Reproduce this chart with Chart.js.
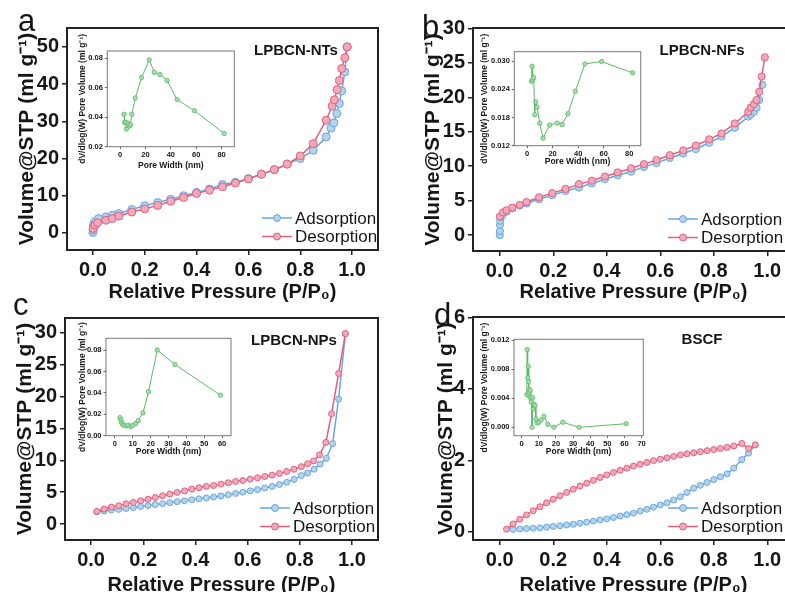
<!DOCTYPE html>
<html><head><meta charset="utf-8">
<script src="https://cdn.jsdelivr.net/npm/chart.js@4.4.1/dist/chart.umd.min.js"></script>
<style>
html,body{margin:0;padding:0;background:#fff;}
body{width:785px;height:592px;overflow:hidden;position:relative;}
canvas{position:absolute;}
</style></head><body>
<canvas id="pa" width="392" height="305" style="left:0px;top:0px"></canvas>
<canvas id="pb" width="410" height="305" style="left:392px;top:0px"></canvas>
<canvas id="pc" width="392" height="310" style="left:0px;top:290px"></canvas>
<canvas id="pd" width="410" height="310" style="left:392px;top:290px"></canvas>
<canvas id="ia" width="170" height="150" style="left:75px;top:25px"></canvas>
<canvas id="ib" width="175" height="150" style="left:475px;top:25px"></canvas>
<canvas id="ic" width="170" height="150" style="left:75px;top:312px"></canvas>
<canvas id="id" width="175" height="150" style="left:475px;top:312px"></canvas>
<script>
// ================= DATA =================
const xTicksMain = [0, 0.2, 0.4, 0.6, 0.8, 1.0];
const yTicksA = [0, 10, 20, 30, 40, 50];
const yTicksB = [0, 5, 10, 15, 20, 25, 30];
const yTicksC = [0, 5, 10, 15, 20, 25, 30];
const yTicksD = [0, 2, 4, 6];

// Panel a: LPBCN-NTs
const adsXA = [0.0002,0.0006,0.0015,0.004,0.01,0.022,0.05,0.075,0.1,0.15,0.2,0.25,0.3,0.35,0.4,0.45,0.5,0.55,0.6,0.65,0.7,0.75,0.8,0.85,0.9,0.919,0.93,0.941,0.951,0.96,0.972,0.981];
const adsYA = [0.1,0.8,1.8,2.6,3.1,3.85,4.3,4.75,5.2,6.3,7.3,8.15,9.05,10.0,10.9,11.8,13.0,13.6,14.6,15.8,17.0,18.5,20.0,22.2,25.8,28.2,29.6,32.1,34.8,38.2,43.3,50.0];
const desXA = [0.001,0.008,0.018,0.05,0.075,0.1,0.15,0.2,0.25,0.3,0.35,0.4,0.45,0.5,0.55,0.6,0.65,0.7,0.75,0.8,0.85,0.9,0.923,0.932,0.942,0.951,0.96,0.972,0.981];
const desYA = [1.2,2.1,2.7,3.4,3.85,4.5,5.6,6.45,7.4,8.5,9.5,10.6,11.5,12.4,13.4,14.5,15.8,17.0,18.5,20.7,24.0,30.3,34.1,35.8,38.5,41.0,44.2,47.1,50.0];

// Panel b: LPBCN-NFs
const adsXB = [0.0002,0.0005,0.001,0.002,0.004,0.01,0.025,0.047,0.075,0.1,0.147,0.196,0.246,0.296,0.344,0.393,0.441,0.491,0.539,0.586,0.636,0.686,0.733,0.783,0.829,0.879,0.929,0.938,0.95,0.96,0.97,0.982];
const adsYB = [0.0,0.6,1.5,2.1,2.6,2.9,3.4,3.9,4.3,4.6,5.2,5.8,6.4,6.9,7.5,8.1,8.7,9.2,9.9,10.45,11.2,11.85,12.5,13.4,14.3,15.6,17.2,17.5,17.9,18.5,19.6,21.8];
const desXB = [0.0005,0.012,0.025,0.047,0.075,0.1,0.147,0.196,0.246,0.296,0.344,0.393,0.441,0.491,0.539,0.586,0.636,0.686,0.733,0.783,0.829,0.879,0.929,0.938,0.95,0.96,0.97,0.979,0.991];
const desYB = [2.7,3.3,3.6,4.0,4.4,4.8,5.5,6.1,6.7,7.4,7.9,8.5,9.1,9.7,10.3,10.9,11.6,12.3,13.0,13.9,14.75,16.2,17.9,18.5,19.0,19.6,20.8,23.0,25.8];

// Panel c: LPBCN-NPs
const adsXC = [0.022,0.05,0.078,0.106,0.134,0.162,0.19,0.218,0.246,0.274,0.302,0.33,0.358,0.386,0.414,0.442,0.47,0.498,0.526,0.554,0.582,0.61,0.638,0.666,0.694,0.722,0.75,0.778,0.806,0.83,0.855,0.878,0.902,0.926,0.949,0.975];
const adsYC = [1.9,2.05,2.2,2.3,2.45,2.6,2.75,2.9,3.05,3.2,3.35,3.5,3.65,3.8,3.95,4.1,4.25,4.4,4.6,4.8,5.0,5.2,5.4,5.65,5.9,6.2,6.55,7.0,7.6,8.0,8.6,9.4,10.3,12.6,19.6,29.85];
const desXC = [0.022,0.05,0.078,0.106,0.134,0.162,0.19,0.218,0.246,0.274,0.302,0.33,0.358,0.386,0.414,0.442,0.47,0.498,0.526,0.554,0.582,0.61,0.638,0.666,0.694,0.722,0.75,0.778,0.806,0.83,0.853,0.876,0.9,0.922,0.949,0.975];
const desYC = [1.98,2.35,2.66,2.87,3.18,3.39,3.65,3.9,4.17,4.43,4.7,4.96,5.2,5.48,5.69,5.9,6.05,6.26,6.47,6.68,6.83,7.04,7.25,7.46,7.67,7.93,8.24,8.6,9.0,9.45,9.9,10.85,12.8,17.3,23.6,29.85];

// Panel d: BSCF
const adsXD = [0.05,0.075,0.1,0.125,0.15,0.175,0.2,0.225,0.25,0.275,0.3,0.325,0.35,0.375,0.4,0.425,0.45,0.475,0.5,0.525,0.55,0.575,0.6,0.625,0.65,0.675,0.7,0.725,0.75,0.775,0.8,0.825,0.85,0.875,0.905,0.93,0.955];
const adsYD = [0.065,0.075,0.09,0.10,0.11,0.13,0.15,0.17,0.19,0.21,0.24,0.27,0.30,0.33,0.36,0.40,0.44,0.48,0.52,0.58,0.63,0.69,0.75,0.81,0.89,0.98,1.1,1.22,1.3,1.38,1.46,1.54,1.62,1.78,2.02,2.2,2.43];
const desXD = [0.025,0.05,0.075,0.1,0.125,0.15,0.175,0.2,0.225,0.25,0.275,0.3,0.325,0.35,0.375,0.4,0.425,0.45,0.475,0.5,0.525,0.55,0.575,0.6,0.625,0.65,0.675,0.7,0.725,0.75,0.775,0.8,0.825,0.85,0.875,0.905,0.93,0.955];
const desYD = [0.07,0.22,0.35,0.47,0.59,0.70,0.81,0.91,1.01,1.10,1.19,1.28,1.36,1.44,1.52,1.59,1.66,1.72,1.78,1.84,1.89,1.94,1.99,2.03,2.07,2.11,2.15,2.18,2.21,2.24,2.27,2.30,2.33,2.36,2.40,2.47,2.33,2.43];

// Insets: pore size distributions
const poreXA = [3.2,3.6,4.5,5.0,5.8,6.5,7.5,8.3,9.3,12,17,23,27,31.5,37,45,58.5,82];
const poreYA = [0.042,0.0365,0.0365,0.032,0.0345,0.036,0.034,0.035,0.042,0.053,0.067,0.079,0.0705,0.069,0.065,0.052,0.0445,0.029];
const poreXB = [3.4,3.9,4.4,5.2,6.0,6.8,7.8,9.9,12.5,17.7,23.5,27.4,32,37.8,45.3,58.4,82.6];
const poreYB = [0.0257,0.0289,0.0261,0.0265,0.0186,0.0213,0.0202,0.0168,0.0136,0.0164,0.0168,0.0165,0.0188,0.0236,0.0294,0.0299,0.0275];
const poreXC = [2.8,3.4,3.7,4.3,5.0,6.2,7.5,8.8,10,11.6,13,15.7,18.8,23.7,33.6,59.1];
const poreYC = [0.0169,0.0144,0.0122,0.0106,0.0097,0.0091,0.0097,0.0084,0.0097,0.0113,0.014,0.0213,0.041,0.080,0.0666,0.0378];
const poreXD = [3.0,3.2,3.5,3.8,4.0,4.2,4.4,4.7,5.0,5.3,5.6,6.0,6.3,6.7,7.2,7.8,8.3,9.0,10,11.3,13,15.3,18.8,24,33.5,61];
const poreYD = [0.0045,0.0107,0.0068,0.0084,0.0063,0.0048,0.0052,0.0042,0.0051,0.0040,0.0035,0.0000,0.0041,0.0025,0.0032,0.0030,0.0011,0.0006,0.0007,0.0010,0.0015,0.0004,0.0000,0.0007,0.0000,0.0005];

const insetXTicksA = [0,20,40,60,80];
const insetYTicksA = [0.02,0.04,0.06,0.08];
const insetXTicksB = [0,20,40,60,80];
const insetYTicksB = [0.012,0.018,0.024,0.030];
const insetXTicksC = [0,10,20,30,40,50,60];
const insetYTicksC = [0,0.02,0.04,0.06,0.08];
const insetXTicksD = [0,10,20,30,40,50,60,70];
const insetYTicksD = [0,0.004,0.008,0.012];

const seriesNames = ['Adsorption', 'Desorption'];
const sampleNames = ['LPBCN-NTs', 'LPBCN-NFs', 'LPBCN-NPs', 'BSCF'];
const panelLetters = ['a', 'b', 'c', 'd'];

// ================= STYLE =================
const FONT = "'Liberation Sans', Arial, Helvetica, sans-serif";
const INK = '#161616';
const BLUE = '#6aa6d9', BLUE_F = '#b3d3ee';
const RED = '#e0607e', RED_F = '#f2a9b9';
const GREEN = '#5cb96a', GREEN_F = '#a6dcae';

function pts(xs, ys) { return xs.map((x, i) => ({x: x, y: ys[i]})); }

const framePlugin = {
  id: 'frame',
  beforeDraw(chart, args, o) {
    if (!o.fill) return;
    const a = chart.chartArea, c = chart.ctx;
    c.save(); c.fillStyle = o.fill; c.fillRect(a.left, a.top, a.right - a.left, a.bottom - a.top); c.restore();
  },
  afterDatasetsDraw(chart, args, o) {
    const a = chart.chartArea, c = chart.ctx;
    c.save(); c.strokeStyle = o.color; c.lineWidth = o.width;
    c.strokeRect(a.left, a.top, a.right - a.left, a.bottom - a.top); c.restore();
  }
};

const decoPlugin = {
  id: 'deco',
  afterDraw(chart, args, o) {
    const c = chart.ctx, a = chart.chartArea;
    c.save();
    c.fillStyle = INK;
    if (o.letter) {
      c.font = '31px ' + FONT; c.textAlign = 'left'; c.textBaseline = 'alphabetic';
      c.fillText(o.letter, o.lx, o.ly);
    }
    if (o.sample) {
      c.font = 'bold 15px ' + FONT; c.textAlign = 'center'; c.textBaseline = 'middle';
      c.fillText(o.sample, a.left + 229, a.top + 23);
    }
    chart.data.datasets.forEach((ds, i) => {
      const y = a.bottom - 32 + i * 18.5, x0 = a.left + 195, x1 = a.left + 225;
      c.strokeStyle = ds.borderColor; c.lineWidth = 1.5;
      c.beginPath(); c.moveTo(x0, y); c.lineTo(x1, y); c.stroke();
      c.beginPath(); c.arc((x0 + x1) / 2, y, 3.5, 0, Math.PI * 2);
      c.fillStyle = ds.pointBackgroundColor; c.fill();
      c.lineWidth = 1; c.strokeStyle = ds.pointBorderColor; c.stroke();
      c.fillStyle = INK; c.font = '17px ' + FONT; c.textAlign = 'left'; c.textBaseline = 'middle';
      c.fillText(ds.label, x1 + 3, y + 1);
    });
    c.restore();
  }
};

function mainChart(id, p) {
  return new Chart(document.getElementById(id), {
    type: 'scatter',
    data: {datasets: [
      {label: seriesNames[0], data: pts(p.ax, p.ay), showLine: true, borderColor: BLUE, backgroundColor: BLUE_F,
       pointBackgroundColor: BLUE_F, pointBorderColor: BLUE, pointRadius: p.r, pointBorderWidth: 1, borderWidth: 1.5, order: 2},
      {label: seriesNames[1], data: pts(p.dx, p.dy), showLine: true, borderColor: RED, backgroundColor: RED_F,
       pointBackgroundColor: RED_F, pointBorderColor: RED, pointRadius: p.r, pointBorderWidth: 1, borderWidth: 1.5, order: 1}
    ]},
    options: {
      responsive: false, animation: false, devicePixelRatio: 1,
      layout: {padding: {top: p.pt, right: p.pr, left: 0, bottom: 0}},
      plugins: {
        legend: {display: false}, tooltip: {enabled: false},
        frame: {color: '#222', width: 2},
        deco: {letter: p.letter, lx: p.lx, ly: p.ly, sample: p.sample}
      },
      scales: {
        x: {
          type: 'linear', min: -0.1, max: 1.1,
          afterFit(s) { s.height = p.xh; },
          afterBuildTicks(s) { s.ticks = xTicksMain.map(v => ({value: v})); },
          ticks: {font: {family: FONT, size: 20, weight: 'bold'}, color: INK, padding: 3, maxRotation: 0,
                  callback: v => v.toFixed(1)},
          grid: {drawOnChartArea: false, drawTicks: true, tickLength: 5, lineWidth: 1.5, color: '#222'},
          border: {display: false},
          title: {display: true, text: 'Relative Pressure (P/P₀)', color: INK,
                  font: {family: FONT, size: 20, weight: 'bold'}, padding: {top: 0, bottom: p.xtb}}
        },
        y: {
          type: 'linear', min: p.ymin, max: p.ymax,
          afterFit(s) { s.width = p.yw; },
          afterBuildTicks(s) { s.ticks = p.yt.map(v => ({value: v})); },
          ticks: {font: {family: FONT, size: 20, weight: 'bold'}, color: INK, padding: 3,
                  callback: v => String(v)},
          grid: {drawOnChartArea: false, drawTicks: true, tickLength: 5, lineWidth: 1.5, color: '#222'},
          border: {display: false},
          title: {display: true, text: 'Volume@STP (ml g⁻¹)', color: INK,
                  font: {family: FONT, size: 21, weight: 'bold'}, padding: {top: p.ytp, bottom: 0}}
        }
      }
    },
    plugins: [framePlugin, decoPlugin]
  });
}

function insetChart(id, p) {
  return new Chart(document.getElementById(id), {
    type: 'scatter',
    data: {datasets: [
      {label: 'PSD', data: pts(p.x, p.y), showLine: true, borderColor: GREEN, backgroundColor: GREEN_F,
       pointBackgroundColor: GREEN_F, pointBorderColor: GREEN, pointRadius: 2.2, pointBorderWidth: 0.8, borderWidth: 1}
    ]},
    options: {
      responsive: false, animation: false, devicePixelRatio: 1,
      layout: {padding: {top: p.pt, right: p.pr, left: 0, bottom: 0}},
      plugins: {legend: {display: false}, tooltip: {enabled: false},
                frame: {color: '#777', width: 1, fill: '#fff'}},
      scales: {
        x: {
          type: 'linear', min: p.xmin, max: p.xmax,
          afterFit(s) { s.height = p.xh; },
          afterBuildTicks(s) { s.ticks = p.xt.map(v => ({value: v})); },
          ticks: {font: {family: FONT, size: 7.5, weight: 'bold'}, color: INK, padding: 1, maxRotation: 0,
                  callback: v => String(v)},
          grid: {drawOnChartArea: false, drawTicks: true, tickLength: 2.5, lineWidth: 1, color: '#666'},
          border: {display: false},
          title: {display: true, text: 'Pore Width (nm)', color: INK,
                  font: {family: FONT, size: 8.5, weight: 'bold'}, padding: {top: 0, bottom: p.xtb}}
        },
        y: {
          type: 'linear', min: p.ymin, max: p.ymax,
          afterFit(s) { s.width = p.yw; },
          afterBuildTicks(s) { s.ticks = p.yt.map(v => ({value: v})); },
          ticks: {font: {family: FONT, size: 7.5, weight: 'bold'}, color: INK, padding: 2,
                  callback: v => v.toFixed(p.dec)},
          grid: {drawOnChartArea: false, drawTicks: true, tickLength: 2.5, lineWidth: 1, color: '#666'},
          border: {display: false},
          title: {display: true, text: 'dV/dlog(W) Pore Volume (ml g⁻¹)', color: INK,
                  font: {family: FONT, size: 8.5, weight: 'bold'}, padding: {top: p.ytp, bottom: 0}}
        }
      }
    },
    plugins: [framePlugin]
  });
}

// ================= PANELS =================
mainChart('pa', {ax: adsXA, ay: adsYA, dx: desXA, dy: desYA, r: 4, ymin: -4.6, ymax: 55.1, yt: yTicksA,
  pt: 28, pr: 14, yw: 67, xh: 55, ytp: 14.4, xtb: 0.5, letter: panelLetters[0], lx: 18, ly: 31, sample: sampleNames[0]});
mainChart('pb', {ax: adsXB, ay: adsYB, dx: desXB, dy: desYB, r: 3.6, ymin: -2.3, ymax: 30.05, yt: yTicksB,
  pt: 28, pr: 8, yw: 81, xh: 54, ytp: 28.4, xtb: 0.5, letter: panelLetters[1], lx: 30, ly: 37, sample: sampleNames[1]});
mainChart('pc', {ax: adsXC, ay: adsYC, dx: desXC, dy: desYC, r: 3, ymin: -2.5, ymax: 32.3, yt: yTicksC,
  pt: 28, pr: 14, yw: 65, xh: 60, ytp: 12.4, xtb: 3, letter: panelLetters[2], lx: 13, ly: 25, sample: sampleNames[2]});
mainChart('pd', {ax: adsXD, ay: adsYD, dx: desXD, dy: desYD, r: 3, ymin: -0.23, ymax: 6.01, yt: yTicksD,
  pt: 27, pr: 8, yw: 81, xh: 60, ytp: 41.4, xtb: 3, letter: panelLetters[3], lx: 42, ly: 35, sample: sampleNames[3]});

insetChart('ia', {x: poreXA, y: poreYA, xmin: -10, xmax: 90, ymin: 0.02, ymax: 0.085, xt: insetXTicksA, yt: insetYTicksA, dec: 2,
  pt: 26, pr: 10.7, yw: 32.3, xh: 28.3, ytp: 2.9, xtb: 3.9});
insetChart('ib', {x: poreXB, y: poreYB, xmin: -10, xmax: 89, ymin: 0.012, ymax: 0.032, xt: insetXTicksB, yt: insetYTicksB, dec: 3,
  pt: 26.7, pr: 9.3, yw: 39.3, xh: 29.3, ytp: 4.9, xtb: 7.9});
insetChart('ic', {x: poreXC, y: poreYC, xmin: -5, xmax: 65, ymin: 0, ymax: 0.091, xt: insetXTicksC, yt: insetYTicksC, dec: 2,
  pt: 26.3, pr: 14, yw: 31, xh: 26.3, ytp: 2.9, xtb: 4.9});
insetChart('id', {x: poreXD, y: poreYD, xmin: -4.5, xmax: 71, ymin: -0.00115, ymax: 0.0121, xt: insetXTicksD, yt: insetYTicksD, dec: 3,
  pt: 27.3, pr: 6.7, yw: 39, xh: 26.3, ytp: 4.9, xtb: 4.9});
</script>
</body></html>
